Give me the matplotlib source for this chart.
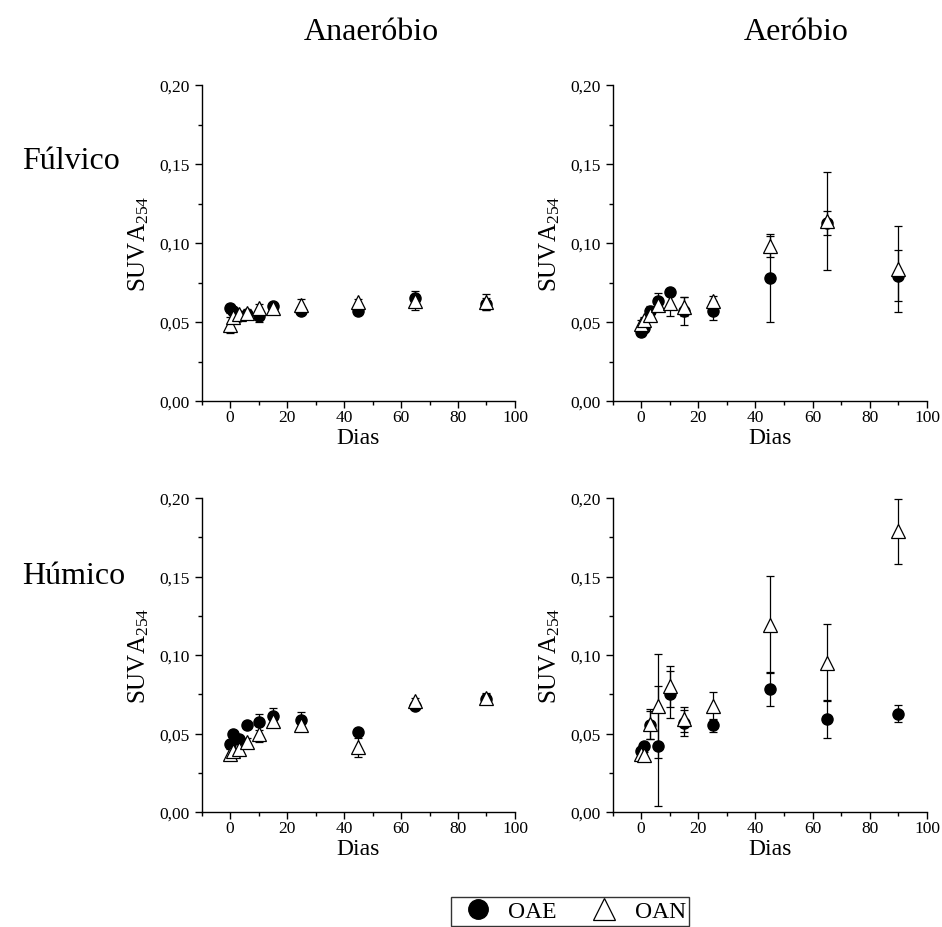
import numpy as np
import matplotlib
matplotlib.use('Agg')
import matplotlib.pyplot as plt
from matplotlib.ticker import MultipleLocator, FuncFormatter
from matplotlib.lines import Line2D

plt.rcParams['font.family'] = ['Liberation Serif', 'DejaVu Serif']
plt.rcParams['mathtext.default'] = 'regular'

# dias de amostragem
dias = [0, 1, 3, 6, 10, 15, 25, 45, 65, 90]

# Fúlvico - Anaeróbio
fa_oae = [0.0587, 0.057, 0.054, 0.055, 0.054, 0.0603, 0.0571, 0.0568, 0.0652, 0.0614]
fa_oae_err = [0.003, 0.002, 0.002, 0.002, 0.004, 0.002, 0.002, 0.002, 0.002, 0.004]
fa_oan = [0.048, 0.053, 0.055, 0.056, 0.0587, 0.059, 0.0608, 0.0625, 0.0635, 0.0625]
fa_oan_err = [0.005, 0.003, 0.002, 0.002, 0.003, 0.002, 0.004, 0.002, 0.006, 0.005]

# Fúlvico - Aeróbio
fe_oae = [0.0434, 0.046, 0.0571, 0.0631, 0.0688, 0.0571, 0.0571, 0.0777, 0.1126, 0.0794]
fe_oae_err = [0.002, 0.002, 0.003, 0.005, 0.002, 0.0088, 0.006, 0.0277, 0.0076, 0.0164]
fe_oan = [0.049, 0.051, 0.0546, 0.061, 0.0618, 0.0597, 0.0635, 0.0978, 0.1137, 0.0836]
fe_oan_err = [0.002, 0.002, 0.003, 0.003, 0.008, 0.006, 0.003, 0.0069, 0.031, 0.0273]

# Húmico - Anaeróbio
ha_oae = [0.0433, 0.0497, 0.0465, 0.0554, 0.0575, 0.061, 0.0588, 0.0512, 0.0673, 0.072]
ha_oae_err = [0.002, 0.002, 0.002, 0.002, 0.005, 0.005, 0.005, 0.001, 0.002, 0.003]
ha_oan = [0.037, 0.039, 0.040, 0.0444, 0.0497, 0.0578, 0.0554, 0.0412, 0.0709, 0.0726]
ha_oan_err = [0.003, 0.002, 0.003, 0.003, 0.005, 0.003, 0.002, 0.006, 0.002, 0.003]

# Húmico - Aeróbio
he_oae = [0.0389, 0.042, 0.0552, 0.042, 0.0749, 0.0567, 0.0552, 0.0783, 0.0594, 0.0626]
he_oae_err = [0.002, 0.002, 0.009, 0.038, 0.015, 0.008, 0.004, 0.011, 0.0122, 0.0053]
he_oan = [0.037, 0.036, 0.0558, 0.0675, 0.080, 0.059, 0.0675, 0.1193, 0.0951, 0.1787]
he_oan_err = [0.002, 0.002, 0.0095, 0.033, 0.013, 0.008, 0.009, 0.031, 0.0245, 0.0206]

paineis = [
    (fa_oae, fa_oae_err, fa_oan, fa_oan_err),
    (fe_oae, fe_oae_err, fe_oan, fe_oan_err),
    (ha_oae, ha_oae_err, ha_oan, ha_oan_err),
    (he_oae, he_oae_err, he_oan, he_oan_err),
]

fig = plt.figure(figsize=(9.42, 9.28), dpi=100)
W, H = 942.0, 928.0
# posições dos eixos em pixels (esq, dir, topo, base)
caixas = [(201.5, 515, 86, 402), (612.5, 927, 86, 402),
          (201.5, 515, 499, 813), (612.5, 927, 499, 813)]

fmt_virg = FuncFormatter(lambda v, p: ('%.2f' % v).replace('.', ','))

for (l, r, t, b), (oae, oae_e, oan, oan_e) in zip(caixas, paineis):
    ax = fig.add_axes([l / W, 1 - b / H, (r - l) / W, (b - t) / H])
    ax.errorbar(dias, oae, yerr=oae_e, fmt='o', color='black', ms=8,
                ecolor='black', elinewidth=0.9, capsize=3, capthick=0.9, zorder=2)
    ax.errorbar(dias, oan, yerr=oan_e, fmt='^', mfc='white', mec='black', mew=0.9,
                ms=10, ecolor='black', elinewidth=0.9, capsize=3, capthick=0.9, zorder=3)
    ax.set_xlim(-10, 100)
    ax.set_ylim(0, 0.20)
    ax.xaxis.set_major_locator(MultipleLocator(20))
    ax.xaxis.set_minor_locator(MultipleLocator(10))
    ax.yaxis.set_major_locator(MultipleLocator(0.05))
    ax.yaxis.set_minor_locator(MultipleLocator(0.025))
    ax.yaxis.set_major_formatter(fmt_virg)
    ax.spines['top'].set_visible(False)
    ax.spines['right'].set_visible(False)
    for s in ('left', 'bottom'):
        ax.spines[s].set_linewidth(1.0)
    ax.tick_params(which='major', direction='out', length=5, width=1, labelsize=12.5)
    ax.tick_params(which='minor', direction='out', length=3, width=1)
    ax.tick_params(axis='x', which='major', pad=0.5)
    ax.set_xlabel('Dias', fontsize=17, labelpad=2)
    ax.set_ylabel('SUVA$_{254}$', fontsize=18, labelpad=6)

fig.text(371 / W, 1 - 33 / H, 'Anaeróbio', fontsize=23, ha='center', va='center')
fig.text(796 / W, 1 - 33 / H, 'Aeróbio', fontsize=23, ha='center', va='center')
fig.text(22 / W, 1 - 162 / H, 'Fúlvico', fontsize=23, ha='left', va='center')
fig.text(22 / W, 1 - 577 / H, 'Húmico', fontsize=23, ha='left', va='center')

handles = [Line2D([], [], marker='o', ls='', color='black', ms=14),
           Line2D([], [], marker='^', ls='', mfc='white', mec='black', mew=0.9, ms=16)]
leg = fig.legend(handles, ['OAE', 'OAN'], loc='upper center', ncol=2,
                 bbox_to_anchor=(570 / W, 1 - 898 / H), fontsize=17,
                 frameon=True, fancybox=False, edgecolor='black',
                 handletextpad=0.3, columnspacing=1.0, borderpad=0.15,
                 borderaxespad=0)
leg.get_frame().set_linewidth(1.0)

fig.savefig('out.png', dpi=100)
